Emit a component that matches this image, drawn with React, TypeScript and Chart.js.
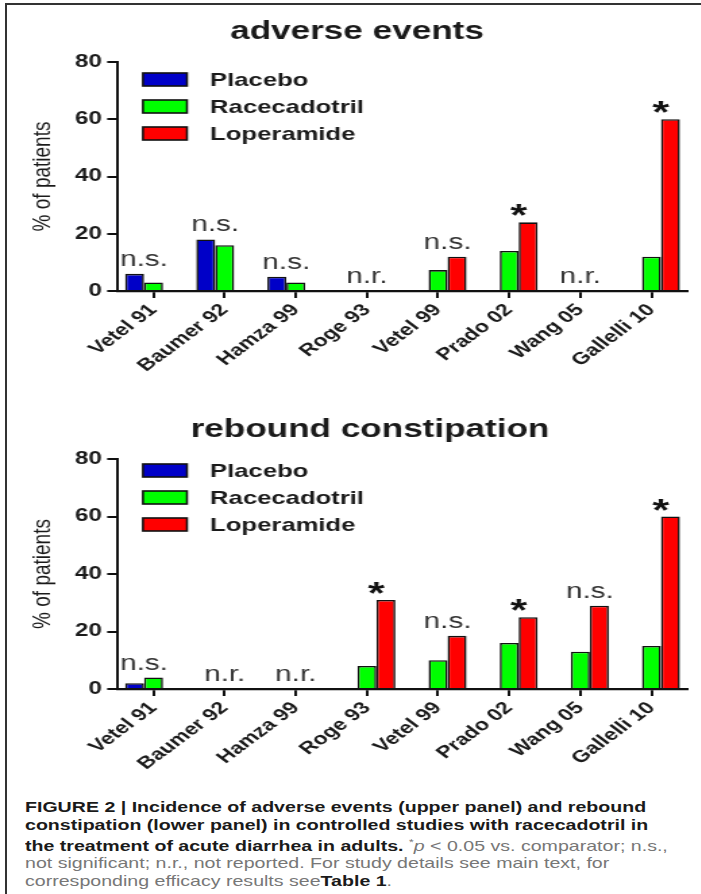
import React, { useEffect, useRef } from 'react';
import { Chart, registerables } from 'chart.js';

Chart.register(...registerables);

// ---------- data ----------
const categories = ['Vetel 91', 'Baumer 92', 'Hamza 99', 'Roge 93', 'Vetel 99', 'Prado 02', 'Wang 05', 'Gallelli 10'];
const seriesLabels = ['Placebo', 'Racecadotril', 'Loperamide'];
const seriesColors = ['#0000c8', '#00ff00', '#ff0000'];

// adverse events (% of patients)
const adversePlacebo = [6, 18, 5, null, null, null, null, null];
const adverseRacecadotril = [3, 16, 3, null, 7.3, 14, null, 12];
const adverseLoperamide = [null, null, null, null, 12, 24, null, 60];
const adverseMarks = ['n.s.', 'n.s.', 'n.s.', 'n.r.', 'n.s.', '*', 'n.r.', '*'];

// rebound constipation (% of patients)
const reboundPlacebo = [2, null, null, null, null, null, null, null];
const reboundRacecadotril = [4, null, null, 8, 10, 16, 13, 15];
const reboundLoperamide = [null, null, null, 31, 18.5, 25, 29, 60];
const reboundMarks = ['n.s.', 'n.r.', 'n.r.', '*', 'n.s.', '*', 'n.s.', '*'];

const yMin = 0;
const yMax = 80;
const yStep = 20;
const yTitle = '% of patients';

// ---------- look ----------
const S = 1.35; // horizontal stretch of the original figure
const CW = 520; // unstretched canvas width
const FONT = '"Liberation Sans", Arial, Helvetica, sans-serif';
const INK = '#1a1a1a';

const titlePlugin = {
  id: 'panelTitle',
  afterDraw(chart: any, _args: any, opts: any) {
    const ctx = chart.ctx;
    ctx.save();
    ctx.font = `bold 26px ${FONT}`;
    ctx.fillStyle = INK;
    ctx.textAlign = 'center';
    ctx.textBaseline = 'alphabetic';
    ctx.fillText(opts.text, opts.x, opts.y);
    ctx.restore();
  },
};

const legendPlugin = {
  id: 'panelLegend',
  afterDraw(chart: any, _args: any, opts: any) {
    const { ctx, chartArea } = chart;
    ctx.save();
    chart.data.datasets.forEach((ds: any, i: number) => {
      const cy = chartArea.top + opts.firstRow + i * opts.rowGap;
      const bx = chartArea.left + opts.boxOffset;
      ctx.fillStyle = ds.backgroundColor;
      ctx.fillRect(bx, cy - 6.5, opts.boxW, 13);
      ctx.strokeStyle = '#111';
      ctx.lineWidth = 1.6;
      ctx.strokeRect(bx, cy - 6.5, opts.boxW, 13);
      ctx.fillStyle = INK;
      ctx.font = `bold 19px ${FONT}`;
      ctx.textAlign = 'left';
      ctx.textBaseline = 'middle';
      ctx.fillText(ds.label, chartArea.left + opts.textOffset, cy + 1);
    });
    ctx.restore();
  },
};

const marksPlugin = {
  id: 'sigMarks',
  afterDatasetsDraw(chart: any, _args: any, opts: any) {
    const { ctx, scales } = chart;
    const marks: string[] = opts.marks;
    ctx.save();
    marks.forEach((mark, i) => {
      const xs: number[] = [];
      const ys: number[] = [];
      chart.data.datasets.forEach((ds: any, d: number) => {
        const v = ds.data[i];
        if (v === null || v === undefined) return;
        const el = chart.getDatasetMeta(d).data[i];
        xs.push(el.x);
        ys.push(el.y);
      });
      const cx = xs.length ? xs.reduce((a, b) => a + b, 0) / xs.length : scales.x.getPixelForValue(i);
      const top = ys.length ? Math.min(...ys) : scales.y.getPixelForValue(0);
      const star = mark === '*';
      ctx.font = star ? `bold 32px ${FONT}` : `22px ${FONT}`;
      ctx.fillStyle = star ? '#111' : '#333';
      ctx.textAlign = 'center';
      ctx.textBaseline = 'alphabetic';
      const m = ctx.measureText(mark);
      const gap = star ? 6 : 8;
      ctx.fillText(mark, cx, top - gap - m.actualBoundingBoxDescent);
    });
    ctx.restore();
  },
};

function makeConfig(
  series: (number | null)[][],
  marks: string[],
  title: string,
  titleX: number,
  titleY: number,
  padTop: number,
  xAxisHeight: number,
  legendFirstRow: number
): any {
  return {
    type: 'bar',
    data: {
      labels: categories,
      datasets: seriesLabels.map((label, k) => ({
        label,
        data: series[k],
        backgroundColor: seriesColors[k],
        borderColor: '#111',
        borderWidth: 1.6,
        borderSkipped: 'start',
        categoryPercentage: 0.8,
        barPercentage: 1.0,
      })),
    },
    options: {
      responsive: false,
      maintainAspectRatio: false,
      animation: false,
      devicePixelRatio: 1,
      layout: { padding: { top: padTop, left: 10, right: 11.1, bottom: 0 } },
      plugins: {
        legend: { display: false },
        title: { display: false },
        tooltip: { enabled: false },
        panelTitle: { text: title, x: titleX, y: titleY },
        panelLegend: { firstRow: legendFirstRow, rowGap: 27, boxOffset: 18.5, boxW: 32.6, textOffset: 68.2 },
        sigMarks: { marks },
      },
      scales: {
        x: {
          type: 'category',
          offset: true,
          grid: {
            display: true,
            drawOnChartArea: false,
            drawTicks: true,
            tickLength: 7,
            offset: false,
            color: '#111',
            lineWidth: 2,
          },
          border: { display: true, color: '#111', width: 2.2 },
          ticks: {
            autoSkip: false,
            minRotation: 45,
            maxRotation: 45,
            padding: 2,
            color: INK,
            font: { family: FONT, size: 17, weight: 'bold' },
          },
          afterFit: (s: any) => {
            s.height = xAxisHeight;
          },
        },
        y: {
          min: yMin,
          max: yMax,
          ticks: {
            stepSize: yStep,
            padding: 4,
            color: INK,
            font: { family: FONT, size: 18, weight: 'bold' },
          },
          grid: {
            display: true,
            drawOnChartArea: false,
            drawTicks: true,
            tickLength: 8,
            color: '#111',
            lineWidth: 2,
          },
          border: { display: true, color: '#111', width: 2 },
          title: {
            display: true,
            text: yTitle,
            color: INK,
            font: { family: FONT, size: 19 },
            padding: { top: 10.5, bottom: 0 },
          },
          afterFit: (s: any) => {
            s.width = 77.4;
          },
        },
      },
    },
    plugins: [titlePlugin, legendPlugin, marksPlugin],
  };
}

function Panel({ top, height, config }: { top: number; height: number; config: any }) {
  const ref = useRef<HTMLCanvasElement>(null);
  useEffect(() => {
    const chart = new Chart(ref.current as HTMLCanvasElement, config);
    return () => chart.destroy();
  }, []);
  return (
    <canvas
      ref={ref}
      width={CW}
      height={height}
      style={{
        position: 'absolute',
        left: 0,
        top,
        width: CW,
        height,
        transform: `scaleX(${S})`,
        transformOrigin: '0 0',
      }}
    />
  );
}

export default function App() {
  const adverseCfg = makeConfig(
    [adversePlacebo, adverseRacecadotril, adverseLoperamide],
    adverseMarks,
    'adverse events',
    357 / S,
    39,
    62,
    109,
    17.5
  );
  const reboundCfg = makeConfig(
    [reboundPlacebo, reboundRacecadotril, reboundLoperamide],
    reboundMarks,
    'rebound constipation',
    370 / S,
    37,
    59,
    101,
    11.5
  );
  const bold = { color: INK, fontWeight: 'bold' as const };
  return (
    <div
      style={{
        position: 'absolute',
        left: 0,
        top: 0,
        width: 701,
        height: 894,
        overflow: 'hidden',
        background: '#fff',
      }}
    >
      <div
        style={{
          position: 'absolute',
          left: 5,
          top: 3,
          width: 720,
          height: 920,
          borderLeft: '2px solid #333',
          borderTop: '2px solid #333',
        }}
      />
      <Panel top={0} height={400} config={adverseCfg} />
      <Panel top={400} height={390} config={reboundCfg} />
      <div
        style={{
          position: 'absolute',
          left: 25,
          top: 799,
          transform: 'scaleX(1.35)',
          transformOrigin: '0 0',
          fontFamily: FONT,
          fontSize: 14.5,
          lineHeight: '17.5px',
          whiteSpace: 'nowrap',
          color: '#777',
        }}
      >
        <span style={bold}>FIGURE 2 | Incidence of adverse events (upper panel) and rebound</span>
        <br />
        <span style={bold}>constipation (lower panel) in controlled studies with racecadotril in</span>
        <br />
        <span style={bold}>the treatment of acute diarrhea in adults.</span> <sup style={{ fontSize: 9 }}>*</sup>
        <i>p</i> &lt; 0.05 vs. comparator; n.s.,
        <br />
        not significant; n.r., not reported. For study details see main text, for
        <br />
        corresponding efficacy results see<span style={bold}>Table 1</span>.
      </div>
    </div>
  );
}
